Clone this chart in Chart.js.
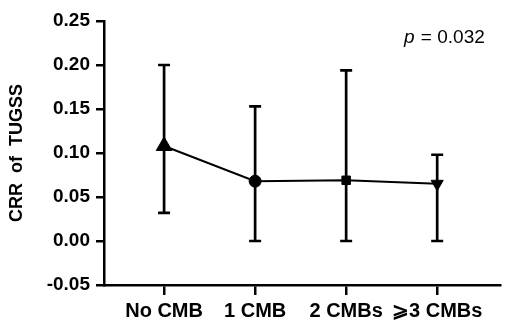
<!DOCTYPE html>
<html>
<head>
<meta charset="utf-8">
<script src="https://cdn.jsdelivr.net/npm/chart.js@4"></script>
<style>
  html, body { margin: 0; padding: 0; background: #fff; }
  #wrap { width: 510px; height: 332px; }
</style>
</head>
<body>
<div id="wrap"><canvas id="crr-chart" width="510" height="332"></canvas></div>
<script>
const groups = ["No CMB", "1 CMB", "2 CMBs", "\u2A7E3 CMBs"];
const means = [0.108, 0.068, 0.069, 0.065];
const upperErr = [0.200, 0.153, 0.194, 0.098];
const lowerErr = [0.032, 0.000, 0.000, 0.000];
const yTicks = [-0.05, 0.00, 0.05, 0.10, 0.15, 0.20, 0.25];
const pointShapes = ["triangle", "circle", "rect", "triangle"];
const pointRotations = [0, 0, 0, 180];

const fontFamily = "'Liberation Sans', Arial, sans-serif";

// error bars behind the markers
const errorBars = {
  id: "errorBars",
  beforeDatasetsDraw(chart) {
    const ctx = chart.ctx;
    const xs = chart.scales.x;
    const ys = chart.scales.y;
    ctx.save();
    ctx.strokeStyle = "#000";
    ctx.lineWidth = 2.7;
    groups.forEach((g, i) => {
      const x = xs.getPixelForValue(i);
      const yTop = ys.getPixelForValue(upperErr[i]);
      const yBot = ys.getPixelForValue(lowerErr[i]);
      ctx.beginPath();
      ctx.moveTo(x, yTop);
      ctx.lineTo(x, yBot);
      ctx.moveTo(x - 6, yTop);
      ctx.lineTo(x + 6, yTop);
      ctx.moveTo(x - 6, yBot);
      ctx.lineTo(x + 6, yBot);
      ctx.stroke();
    });
    ctx.restore();
  },
};

// p value note in the top right
const pLabel = {
  id: "pLabel",
  afterDraw(chart) {
    const ctx = chart.ctx;
    ctx.save();
    ctx.fillStyle = "#000";
    ctx.textBaseline = "alphabetic";
    ctx.textAlign = "left";
    ctx.font = "italic 19px " + fontFamily;
    ctx.fillText("p", 404, 43);
    const w = ctx.measureText("p").width;
    ctx.font = "19px " + fontFamily;
    ctx.fillText(" = 0.032", 404 + w + 1, 43);
    ctx.restore();
  },
};

const ctx = document.getElementById("crr-chart").getContext("2d");

new Chart(ctx, {
  type: "line",
  data: {
    datasets: [
      {
        data: means.map((m, i) => ({ x: i, y: m })),
        borderColor: "#000",
        backgroundColor: "#000",
        borderWidth: 2,
        pointStyle: pointShapes,
        rotation: pointRotations,
        pointRadius: [9, 6, 6, 7],
        pointBorderWidth: 1,
        tension: 0,
      },
    ],
  },
  options: {
    responsive: false,
    animation: false,
    layout: { padding: { top: 21, right: 10, left: 0, bottom: 0 } },
    plugins: {
      legend: { display: false },
      tooltip: { enabled: false },
    },
    scales: {
      x: {
        type: "linear",
        min: -0.66,
        max: 3.69,
        afterBuildTicks(scale) {
          scale.ticks = groups.map((g, i) => ({ value: i }));
        },
        afterFit(scale) {
          scale.height = 47;
        },
        border: { color: "#000", width: 2.5 },
        grid: {
          drawOnChartArea: false,
          drawTicks: true,
          tickLength: 10,
          color: "#000",
          lineWidth: 2.5,
        },
        ticks: {
          color: "#000",
          padding: 4,
          maxRotation: 0,
          autoSkip: false,
          font: { family: fontFamily, size: 20, weight: "bold" },
          callback: (v) => groups[v],
        },
      },
      y: {
        min: -0.05,
        max: 0.25,
        afterBuildTicks(scale) {
          scale.ticks = yTicks.map((v) => ({ value: v }));
        },
        afterFit(scale) {
          scale.width = 104;
        },
        border: { color: "#000", width: 2.5 },
        grid: {
          drawOnChartArea: false,
          drawTicks: true,
          tickLength: 8,
          color: "#000",
          lineWidth: 2.5,
        },
        ticks: {
          color: "#000",
          padding: 6,
          font: { family: fontFamily, size: 19, weight: "bold" },
          callback: (v) => v.toFixed(2),
        },
        title: {
          display: true,
          text: "CRR  of  TUGSS",
          color: "#000",
          padding: { top: 6, bottom: 0 },
          font: { family: fontFamily, size: 18, weight: "bold" },
        },
      },
    },
  },
  plugins: [errorBars, pLabel],
});
</script>
</body>
</html>
